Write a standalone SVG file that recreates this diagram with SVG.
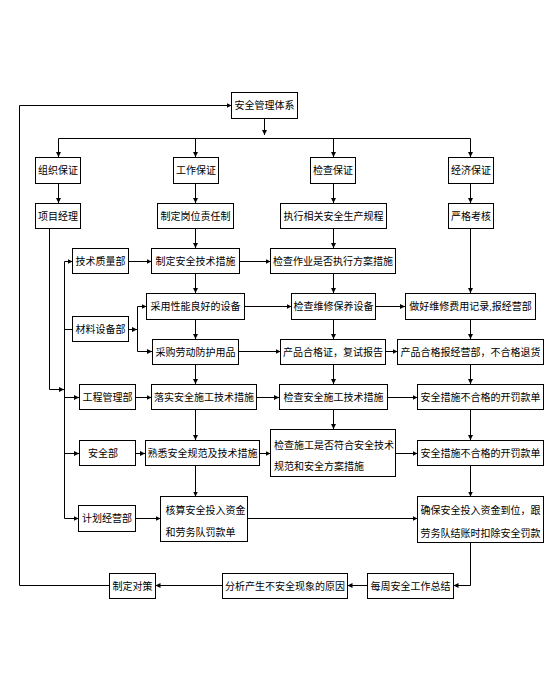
<svg xmlns="http://www.w3.org/2000/svg" width="550" height="693" viewBox="0 0 550 693">
<style>
.b{fill:#fff;stroke:#000;stroke-width:1}
.t{font-family:"Liberation Serif","Noto Sans CJK SC",serif;font-size:10px;fill:#000;text-anchor:middle;dominant-baseline:central}
.l{text-anchor:start}
.c path{fill:none;stroke:#000;stroke-width:1}
.a{marker-end:url(#ar)}
</style>
<defs>
<marker id="ar" markerUnits="userSpaceOnUse" markerWidth="6" markerHeight="6" refX="5" refY="3" orient="auto">
<path d="M0,0.5 L5,3 L0,5.5 Z" fill="#000"/>
</marker>
</defs>
<rect width="550" height="693" fill="#fff"/>
<g class="c" id="connectors">
<path class="a" d="M264.5,118.5 V135"/>
<path d="M58.5,138.5 H470.5"/>
<path class="a" d="M58.5,138.5 V157"/>
<path class="a" d="M195.5,138.5 V157"/>
<path class="a" d="M333.5,138.5 V157"/>
<path class="a" d="M470.5,138.5 V157"/>
<path class="a" d="M58.5,183.5 V203"/>
<path class="a" d="M195.5,183.5 V203"/>
<path class="a" d="M333.5,183.5 V203"/>
<path class="a" d="M470.5,183.5 V203"/>
<path class="a" d="M49.5,228.5 V389.5 H64"/>
<path d="M64.5,261.5 V518.5"/>
<path class="a" d="M64.5,261.5 H72.5"/>
<path d="M64.5,329.5 H72.5"/>
<path class="a" d="M64.5,397.5 H79"/>
<path class="a" d="M64.5,453.5 H79"/>
<path class="a" d="M64.5,518.5 H78.5"/>
<path class="a" d="M128.5,329.5 H137"/>
<path d="M137.5,306.5 V351.5"/>
<path class="a" d="M137.5,306.5 H146.5"/>
<path class="a" d="M137.5,351.5 H152"/>
<path class="a" d="M195.5,228.5 V248"/>
<path class="a" d="M195.5,273.5 V293"/>
<path class="a" d="M195.5,319.5 V339"/>
<path class="a" d="M195.5,364.5 V384"/>
<path class="a" d="M195.5,409.5 V440"/>
<path class="a" d="M195.5,465.5 V496.5"/>
<path class="a" d="M333.5,228.5 V248"/>
<path class="a" d="M333.5,273.5 V293"/>
<path class="a" d="M333.5,319.5 V339"/>
<path class="a" d="M333.5,364.5 V384"/>
<path class="a" d="M333.5,409.5 V429"/>
<path class="a" d="M470.5,228.5 V293"/>
<path class="a" d="M470.5,319.5 V339"/>
<path class="a" d="M470.5,364.5 V384"/>
<path class="a" d="M470.5,409.5 V440"/>
<path class="a" d="M470.5,465.5 V496.5"/>
<path class="a" d="M470.5,542.5 V585.5 H453.5"/>
<path class="a" d="M128.5,261.5 H151.5"/>
<path class="a" d="M239.5,261.5 H270.5"/>
<path class="a" d="M244.5,306.5 H291.5"/>
<path class="a" d="M375.5,306.5 H405"/>
<path class="a" d="M238.5,351.5 H280.5"/>
<path class="a" d="M385.5,351.5 H397.5"/>
<path class="a" d="M135.5,397.5 H151.5"/>
<path class="a" d="M256.5,397.5 H279"/>
<path class="a" d="M387.5,397.5 H417.5"/>
<path class="a" d="M135.5,453.5 H145"/>
<path class="a" d="M259.5,453.5 H270.5"/>
<path class="a" d="M395.5,453.5 H417.5"/>
<path class="a" d="M135.5,518.5 H160.5"/>
<path class="a" d="M247.5,518.5 H417.5"/>
<path class="a" d="M367.5,585.5 H347.5"/>
<path class="a" d="M222.5,585.5 H155.5"/>
<path class="a" d="M109.5,585.5 H19.5 V105.5 H231.5"/>
</g>
<g id="n_root"><rect class="b" x="231.5" y="92.5" width="66" height="26"/><text class="t" x="264.5" y="105.5">安全管理体系</text></g>
<g id="n_zuzhi"><rect class="b" x="35.5" y="157.5" width="45" height="26"/><text class="t" x="58" y="170.5">组织保证</text></g>
<g id="n_gongzuo"><rect class="b" x="173.5" y="157.5" width="45" height="26"/><text class="t" x="196" y="170.5">工作保证</text></g>
<g id="n_jiancha"><rect class="b" x="310.5" y="157.5" width="45" height="26"/><text class="t" x="333" y="170.5">检查保证</text></g>
<g id="n_jingji"><rect class="b" x="448.5" y="157.5" width="45" height="26"/><text class="t" x="471" y="170.5">经济保证</text></g>
<g id="n_xiangmu"><rect class="b" x="35.5" y="203.5" width="45" height="25"/><text class="t" x="58" y="216">项目经理</text></g>
<g id="n_gangwei"><rect class="b" x="157.5" y="203.5" width="76" height="25"/><text class="t" x="195.5" y="216">制定岗位责任制</text></g>
<g id="n_zhixing"><rect class="b" x="280.5" y="203.5" width="106" height="25"/><text class="t" x="333.5" y="216">执行相关安全生产规程</text></g>
<g id="n_kaohe"><rect class="b" x="448.5" y="203.5" width="45" height="25"/><text class="t" x="471" y="216">严格考核</text></g>
<g id="n_jishu"><rect class="b" x="72.5" y="248.5" width="56" height="25"/><text class="t" x="100.5" y="261">技术质量部</text></g>
<g id="n_zhiding"><rect class="b" x="151.5" y="248.5" width="88" height="25"/><text class="t" x="195.5" y="261">制定安全技术措施</text></g>
<g id="n_zuoye"><rect class="b" x="270.5" y="248.5" width="125" height="25"/><text class="t" x="333" y="261">检查作业是否执行方案措施</text></g>
<g id="n_caiyong"><rect class="b" x="146.5" y="293.5" width="98" height="26"/><text class="t" x="195.5" y="306.5">采用性能良好的设备</text></g>
<g id="n_cailiao"><rect class="b" x="72.5" y="316.5" width="56" height="25"/><text class="t" x="100.5" y="329">材料设备部</text></g>
<g id="n_weixiu"><rect class="b" x="291.5" y="293.5" width="84" height="26"/><text class="t" x="333.5" y="306.5">检查维修保养设备</text></g>
<g id="n_jilu"><rect class="b" x="405.5" y="293.5" width="130" height="26"/><text class="t" x="470.5" y="306.5">做好维修费用记录,报经营部</text></g>
<g id="n_caigou"><rect class="b" x="152.5" y="339.5" width="86" height="25"/><text class="t" x="195.5" y="352">采购劳动防护用品</text></g>
<g id="n_hege"><rect class="b" x="280.5" y="339.5" width="105" height="25"/><text class="t" x="333" y="352">产品合格证，复试报告</text></g>
<g id="n_tuihuo"><rect class="b" x="397.5" y="339.5" width="146" height="25"/><text class="t" x="470.5" y="352">产品合格报经营部，不合格退货</text></g>
<g id="n_gongcheng"><rect class="b" x="79.5" y="384.5" width="56" height="25"/><text class="t" x="107.5" y="397">工程管理部</text></g>
<g id="n_luoshi"><rect class="b" x="151.5" y="384.5" width="105" height="25"/><text class="t" x="204" y="397">落实安全施工技术措施</text></g>
<g id="n_jcaq"><rect class="b" x="279.5" y="384.5" width="108" height="25"/><text class="t" x="333.5" y="397">检查安全施工技术措施</text></g>
<g id="n_fk1"><rect class="b" x="417.5" y="384.5" width="126" height="25"/><text class="t" x="480.5" y="397">安全措施不合格的开罚款单</text></g>
<g id="n_anquan"><rect class="b" x="79.5" y="440.5" width="56" height="25"/><text class="t" x="103" y="453">安全部</text></g>
<g id="n_shuxi"><rect class="b" x="145.5" y="440.5" width="114" height="25"/><text class="t" x="202.5" y="453">熟悉安全规范及技术措施</text></g>
<g id="n_fuhe"><rect class="b" x="270.5" y="429.5" width="125" height="47"/><text class="t l" x="274" y="445">检查施工是否符合安全技术</text><text class="t l" x="274" y="466.5">规范和安全方案措施</text></g>
<g id="n_fk2"><rect class="b" x="417.5" y="440.5" width="126" height="25"/><text class="t" x="480.5" y="453">安全措施不合格的开罚款单</text></g>
<g id="n_jihua"><rect class="b" x="78.5" y="505.5" width="57" height="26"/><text class="t" x="107" y="518.5">计划经营部</text></g>
<g id="n_hesuan"><rect class="b" x="160.5" y="496.5" width="87" height="45"/><text class="t l" x="165.5" y="510">核算安全投入资金</text><text class="t l" x="165.5" y="532">和劳务队罚款单</text></g>
<g id="n_queb"><rect class="b" x="417.5" y="496.5" width="126" height="46"/><text class="t l" x="420.5" y="510">确保安全投入资金到位，跟</text><text class="t l" x="420.5" y="533">劳务队结账时扣除安全罚款</text></g>
<g id="n_duice"><rect class="b" x="109.5" y="573.5" width="46" height="25"/><text class="t" x="132.5" y="586">制定对策</text></g>
<g id="n_fenxi"><rect class="b" x="222.5" y="573.5" width="125" height="25"/><text class="t" x="285" y="586">分析产生不安全现象的原因</text></g>
<g id="n_meizhou"><rect class="b" x="367.5" y="573.5" width="86" height="25"/><text class="t" x="410.5" y="586">每周安全工作总结</text></g>
</svg>
